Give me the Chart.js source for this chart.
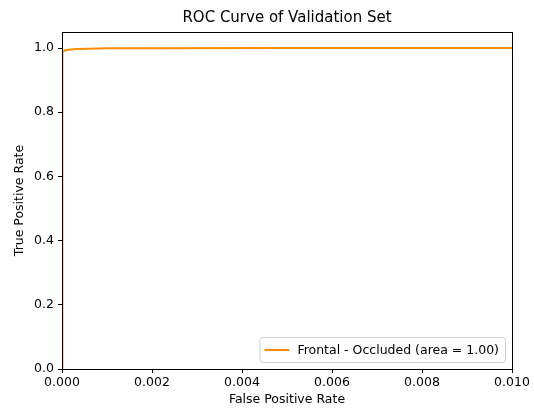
<!DOCTYPE html>
<html>
<head>
<meta charset="utf-8">
<script src="https://cdn.jsdelivr.net/npm/chart.js@4.4.0/dist/chart.umd.min.js"></script>
<style>
  html, body { margin: 0; padding: 0; background: #fff; }
  #wrap { width: 534px; height: 409px; }
</style>
</head>
<body>
<div id="wrap"><canvas id="roc"></canvas></div>
<script>
// ROC points
var fpr = [0, 0, 0.00001, 0.00002, 0.00004, 0.00008, 0.00015, 0.0003, 0.0006, 0.001, 0.002, 0.005, 0.01];
var tpr = [0, 0.975, 0.983, 0.988, 0.991, 0.993, 0.995, 0.997, 0.998, 0.999, 0.9995, 1.0, 1.0];
var xTicks = [0, 0.002, 0.004, 0.006, 0.008, 0.010];
var yTicks = [0, 0.2, 0.4, 0.6, 0.8, 1.0];
var seriesLabel = 'Frontal - Occluded (area = 1.00)';

var FONT = 'DejaVu Sans, sans-serif';

var points = fpr.map(function (x, i) { return { x: x, y: tpr[i] }; });

// box round the plot + legend in the lower right, matplotlib style
var framePlugin = {
    id: 'frame',
    afterDatasetsDraw: function (chart) {
        var ctx = chart.ctx, a = chart.chartArea;
        ctx.save();
        ctx.strokeStyle = '#000';
        ctx.lineWidth = 1;
        ctx.strokeRect(Math.round(a.left) + 0.5, Math.round(a.top) + 0.5,
            Math.round(a.right - a.left), Math.round(a.bottom - a.top));

        var ds = chart.data.datasets[0];
        ctx.font = '12.5px ' + FONT;
        var tw = ctx.measureText(ds.label).width;
        var w = tw + 44, h = 25;
        var x = a.right - 7 - w, y = a.bottom - 7 - h;
        ctx.fillStyle = 'rgba(255,255,255,0.8)';
        ctx.strokeStyle = '#d0d0d0';
        ctx.beginPath();
        if (ctx.roundRect) ctx.roundRect(x + 0.5, y + 0.5, w, h, 3); else ctx.rect(x + 0.5, y + 0.5, w, h);
        ctx.fill();
        ctx.stroke();
        ctx.strokeStyle = ds.borderColor;
        ctx.lineWidth = 2;
        ctx.beginPath();
        ctx.moveTo(x + 5, y + h / 2 + 0.5);
        ctx.lineTo(x + 30, y + h / 2 + 0.5);
        ctx.stroke();
        ctx.fillStyle = '#000';
        ctx.textBaseline = 'middle';
        ctx.fillText(ds.label, x + 38, y + h / 2 + 1);
        ctx.restore();
    }
};

new Chart(document.getElementById('roc'), {
    type: 'scatter',
    data: {
        datasets: [{
            label: seriesLabel,
            data: points,
            showLine: true,
            borderColor: '#FF8C00',
            backgroundColor: '#FF8C00',
            borderWidth: 2,
            pointRadius: 0,
            tension: 0
        }]
    },
    options: {
        responsive: true,
        maintainAspectRatio: false,
        animation: false,
        layout: { padding: { left: 0, right: 22, top: 0, bottom: 0 } },
        plugins: {
            legend: { display: false },
            tooltip: { enabled: false },
            title: {
                display: true,
                text: 'ROC Curve of Validation Set',
                fullSize: false,
                color: '#000',
                font: { family: FONT, size: 15, weight: 'normal' },
                padding: { top: 9, bottom: 5 }
            }
        },
        scales: {
            x: {
                type: 'linear',
                min: 0,
                max: 0.01,
                afterBuildTicks: function (s) { s.ticks = xTicks.map(function (v) { return { value: v }; }); },
                afterFit: function (s) { s.height = 40; },
                ticks: {
                    color: '#000',
                    font: { family: FONT, size: 12.5 },
                    padding: 2,
                    maxRotation: 0,
                    callback: function (v) { return v.toFixed(3); }
                },
                grid: { drawOnChartArea: false, drawTicks: true, tickLength: 4, color: '#000' },
                border: { display: false },
                title: {
                    display: true,
                    text: 'False Positive Rate',
                    color: '#000',
                    font: { family: FONT, size: 12.5 },
                    padding: { top: 0, bottom: 2 }
                }
            },
            y: {
                type: 'linear',
                min: 0,
                max: 1.05,
                afterBuildTicks: function (s) { s.ticks = yTicks.map(function (v) { return { value: v }; }); },
                afterFit: function (s) { s.width = 62; },
                ticks: {
                    color: '#000',
                    font: { family: FONT, size: 12.5 },
                    padding: 4,
                    callback: function (v) { return v.toFixed(1); }
                },
                grid: { drawOnChartArea: false, drawTicks: true, tickLength: 4, color: '#000' },
                border: { display: false },
                title: {
                    display: true,
                    text: 'True Positive Rate',
                    color: '#000',
                    font: { family: FONT, size: 12.5 },
                    padding: { top: 12, bottom: 0 }
                }
            }
        }
    },
    plugins: [framePlugin]
});
</script>
</body>
</html>
